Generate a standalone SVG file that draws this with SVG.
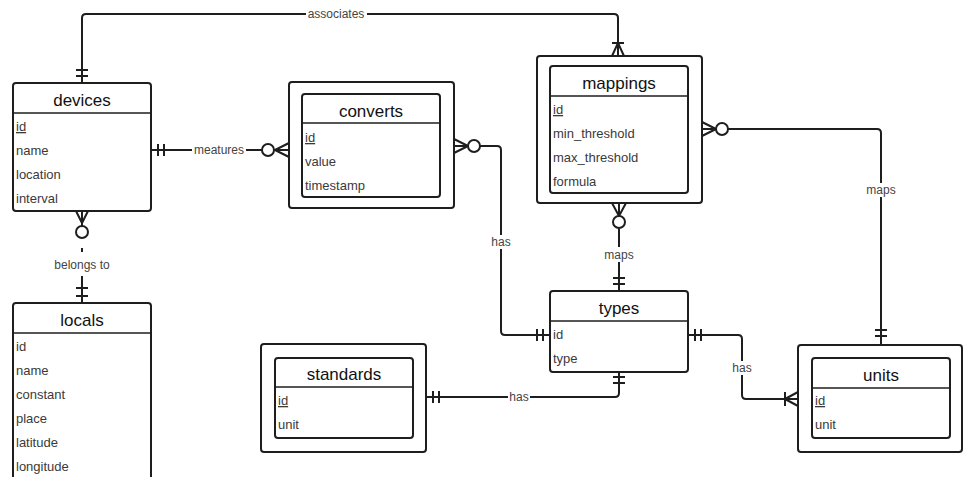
<svg xmlns="http://www.w3.org/2000/svg" width="963" height="477" viewBox="0 0 963 477">
  <style>
    .box { fill: #fff; stroke: #1e1e1e; stroke-width: 2; }
    .sep { stroke: #1e1e1e; stroke-width: 1.6; }
    .title { font-family: "Liberation Sans", Arial, sans-serif; font-size: 17px; fill: #111; text-anchor: middle; }
    .attr { font-family: "Liberation Sans", Arial, sans-serif; font-size: 13px; fill: #3a3a3a; }
    .key { text-decoration: underline; }
    .edge { fill: none; stroke: #1e1e1e; stroke-width: 2; }
    .mark { fill: none; stroke: #1e1e1e; stroke-width: 2; }
    .ring { fill: #fff; stroke: #1e1e1e; stroke-width: 2; }
    .lbl-bg { fill: #fff; }
    .lbl { font-family: "Liberation Sans", Arial, sans-serif; font-size: 12px; fill: #444; text-anchor: middle; }
  </style>

  <!-- relationships -->
  <g id="connectors">
    <!-- devices ||——< mappings : associates -->
    <path class="edge" d="M82,83 V18 Q82,14 86,14 H614 Q618,14 618,18 V56"/>
    <path class="mark" d="M76,70 H88 M76,76 H88"/>
    <path class="mark" d="M612,43 H624 M618,43 L612,56 M618,43 L624,56"/>
    <rect class="lbl-bg" x="306" y="7" width="61" height="14"/>
    <text class="lbl" x="336" y="18">associates</text>

    <!-- devices ||——o< converts : meatures -->
    <path class="edge" d="M151,150 H289"/>
    <path class="mark" d="M158,144 V156 M164,144 V156"/>
    <path class="mark" d="M275,150 L289,143 M275,150 L289,157"/>
    <circle class="ring" cx="268" cy="150" r="6"/>
    <rect class="lbl-bg" x="192" y="143" width="54" height="14"/>
    <text class="lbl" x="219" y="154">meatures</text>

    <!-- converts >o——|| types : has -->
    <path class="edge" d="M454,146 H497 Q501,146 501,150 V331 Q501,335 505,335 H550"/>
    <path class="mark" d="M468,146 L454,139 M468,146 L454,153"/>
    <circle class="ring" cx="474" cy="146" r="6"/>
    <path class="mark" d="M537,329 V341 M543,329 V341"/>
    <rect class="lbl-bg" x="490" y="235" width="22" height="14"/>
    <text class="lbl" x="501" y="246">has</text>

    <!-- mappings >o——|| units : maps -->
    <path class="edge" d="M702,129 H877 Q881,129 881,133 V345"/>
    <path class="mark" d="M716,129 L702,122 M716,129 L702,136"/>
    <circle class="ring" cx="722" cy="129" r="6"/>
    <path class="mark" d="M875,330 H887 M875,336 H887"/>
    <rect class="lbl-bg" x="866" y="183" width="30" height="14"/>
    <text class="lbl" x="881" y="194">maps</text>

    <!-- mappings >o——|| types : maps -->
    <path class="edge" d="M619,203 V291"/>
    <path class="mark" d="M619,216 L612,203 M619,216 L626,203"/>
    <circle class="ring" cx="619" cy="222" r="6"/>
    <path class="mark" d="M613,278 H625 M613,284 H625"/>
    <rect class="lbl-bg" x="604" y="247" width="30" height="15"/>
    <text class="lbl" x="619" y="259">maps</text>

    <!-- types ||——|| standards : has -->
    <path class="edge" d="M619,372 V393 Q619,397 615,397 H426"/>
    <path class="mark" d="M613,377 H625 M613,383 H625"/>
    <path class="mark" d="M433,391 V403 M439,391 V403"/>
    <rect class="lbl-bg" x="508" y="390" width="22" height="14"/>
    <text class="lbl" x="519" y="401">has</text>

    <!-- types ||——|< units : has -->
    <path class="edge" d="M688,335 H738 Q742,335 742,339 V395 Q742,399 746,399 H798"/>
    <path class="mark" d="M695,329 V341 M701,329 V341"/>
    <path class="mark" d="M785,392 V406 M785,399 L798,392 M785,399 L798,406"/>
    <rect class="lbl-bg" x="731" y="361" width="22" height="14"/>
    <text class="lbl" x="742" y="372">has</text>

    <!-- devices >o——|| locals : belongs to -->
    <path class="edge" d="M82,211 V226 M82,248 V252 M82,276 V303"/>
    <path class="mark" d="M82,223 L76,211 M82,223 L88,211"/>
    <circle class="ring" cx="82" cy="232" r="6"/>
    <path class="mark" d="M76,288 H88 M76,296 H88"/>
    <text class="lbl" x="82" y="269">belongs to</text>
  </g>

  <!-- entities -->
  <g id="devices">
    <rect class="box" x="13" y="83" width="138" height="128" rx="3"/>
    <line class="sep" x1="13" y1="113" x2="151" y2="113"/>
    <text class="title" x="82" y="106">devices</text>
    <text class="attr key" x="16" y="131">id</text>
    <text class="attr" x="16" y="155">name</text>
    <text class="attr" x="16" y="179">location</text>
    <text class="attr" x="16" y="203">interval</text>
  </g>

  <g id="converts">
    <rect class="box" x="289" y="82" width="165" height="126" rx="3"/>
    <rect class="box" x="302" y="94" width="138" height="103" rx="3"/>
    <line class="sep" x1="302" y1="123" x2="440" y2="123"/>
    <text class="title" x="371" y="117">converts</text>
    <text class="attr key" x="305" y="142">id</text>
    <text class="attr" x="305" y="166">value</text>
    <text class="attr" x="305" y="190">timestamp</text>
  </g>

  <g id="mappings">
    <rect class="box" x="537" y="56" width="165" height="147" rx="3"/>
    <rect class="box" x="550" y="66" width="138" height="127" rx="3"/>
    <line class="sep" x1="550" y1="96" x2="688" y2="96"/>
    <text class="title" x="619" y="89">mappings</text>
    <text class="attr key" x="553" y="114">id</text>
    <text class="attr" x="553" y="138">min_threshold</text>
    <text class="attr" x="553" y="162">max_threshold</text>
    <text class="attr" x="553" y="186">formula</text>
  </g>

  <g id="types">
    <rect class="box" x="550" y="291" width="138" height="81" rx="3"/>
    <line class="sep" x1="550" y1="321" x2="688" y2="321"/>
    <text class="title" x="619" y="314">types</text>
    <text class="attr" x="553" y="339">id</text>
    <text class="attr" x="553" y="363">type</text>
  </g>

  <g id="standards">
    <rect class="box" x="261" y="344" width="165" height="108" rx="3"/>
    <rect class="box" x="275" y="358" width="138" height="80" rx="3"/>
    <line class="sep" x1="275" y1="387" x2="413" y2="387"/>
    <text class="title" x="344" y="380">standards</text>
    <text class="attr key" x="278" y="405">id</text>
    <text class="attr" x="278" y="429">unit</text>
  </g>

  <g id="units">
    <rect class="box" x="798" y="345" width="164" height="107" rx="3"/>
    <rect class="box" x="812" y="358" width="138" height="80" rx="3"/>
    <line class="sep" x1="812" y1="388" x2="950" y2="388"/>
    <text class="title" x="881" y="381">units</text>
    <text class="attr key" x="815" y="405">id</text>
    <text class="attr" x="815" y="429">unit</text>
  </g>

  <g id="locals">
    <rect class="box" x="13" y="303" width="138" height="190" rx="3"/>
    <line class="sep" x1="13" y1="333" x2="151" y2="333"/>
    <text class="title" x="82" y="326">locals</text>
    <text class="attr" x="16" y="351">id</text>
    <text class="attr" x="16" y="375">name</text>
    <text class="attr" x="16" y="399">constant</text>
    <text class="attr" x="16" y="423">place</text>
    <text class="attr" x="16" y="447">latitude</text>
    <text class="attr" x="16" y="471">longitude</text>
  </g>
</svg>
